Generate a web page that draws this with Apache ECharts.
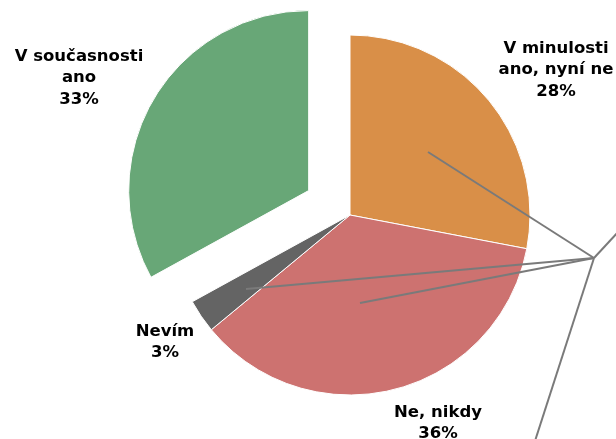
<!DOCTYPE html>
<html>
<head>
<meta charset="utf-8">
<script src="https://cdn.jsdelivr.net/npm/echarts@6/dist/echarts.min.js"></script>
<style>
  html, body { margin: 0; padding: 0; background: #fff; }
  #chart { width: 616px; height: 439px; }
</style>
</head>
<body>
<div id="chart"></div>
<script>
// data
var categories = ['V minulosti\nano, nyní ne', 'Ne, nikdy', 'Nevím', 'V současnosti\nano'];
var values = [28, 36, 3, 33];
var colors = ['#d98f48', '#cd7270', '#646464', '#68a777'];
var explodedIndex = 3;

// kde sedí popisky (střed textu)
var labelPos = [[556, 70], [438, 423], [165, 342], [79, 78]];

// šedé vodicí čáry z originálu (zbloudilé)
var hub = [594, 258];
var strayEnds = [[428, 152], [246, 289], [360, 303], [618, 232], [535, 441]];

var center = [350, 215];
var explodeDist = 48;

// střed vysunutého dílce podle jeho středového úhlu
var total = values.reduce(function (a, b) { return a + b; }, 0);
var before = 0;
for (var k = 0; k < explodedIndex; k++) before += values[k];
var midAngle = (before + values[explodedIndex] / 2) / total * 2 * Math.PI;
var explodedCenter = [
  center[0] + explodeDist * Math.sin(midAngle),
  center[1] - explodeDist * Math.cos(midAngle)
];

var chart = echarts.init(document.getElementById('chart'));

var labelStyle = {
  show: true,
  position: 'outside',
  formatter: function (p) { return p.name + '\n' + p.value + '%'; },
  fontFamily: 'DejaVu Sans',
  fontWeight: 'bold',
  fontSize: 16.5,
  lineHeight: 21.5,
  color: '#000',
  align: 'center'
};

function makeData(exploded) {
  return values.map(function (v, i) {
    var on = (i === explodedIndex) === exploded;
    return {
      value: v,
      name: categories[i],
      itemStyle: on ? { color: colors[i] } : { color: 'rgba(0,0,0,0)', borderWidth: 0 },
      label: { show: on }
    };
  });
}

function layout(params) {
  var p = labelPos[params.dataIndex];
  return { x: p[0], y: p[1], align: 'center', verticalAlign: 'middle' };
}

var lines = strayEnds.map(function (p) {
  return {
    type: 'line',
    z: 100,
    silent: true,
    shape: { x1: hub[0], y1: hub[1], x2: p[0], y2: p[1] },
    style: { stroke: '#7a7a7a', lineWidth: 2 }
  };
});

chart.setOption({
  animation: false,
  backgroundColor: '#fff',
  series: [{
    type: 'pie',
    center: center,
    radius: 180,
    startAngle: 90,
    clockwise: true,
    avoidLabelOverlap: false,
    itemStyle: { borderColor: '#fff', borderWidth: 1 },
    label: labelStyle,
    labelLine: { show: false },
    labelLayout: layout,
    emphasis: { disabled: true },
    data: makeData(false)
  }, {
    type: 'pie',
    center: explodedCenter,
    radius: 180,
    startAngle: 90,
    clockwise: true,
    avoidLabelOverlap: false,
    itemStyle: { borderColor: '#fff', borderWidth: 1 },
    label: labelStyle,
    labelLine: { show: false },
    labelLayout: layout,
    emphasis: { disabled: true },
    data: makeData(true)
  }],
  graphic: lines
});
</script>
</body>
</html>
